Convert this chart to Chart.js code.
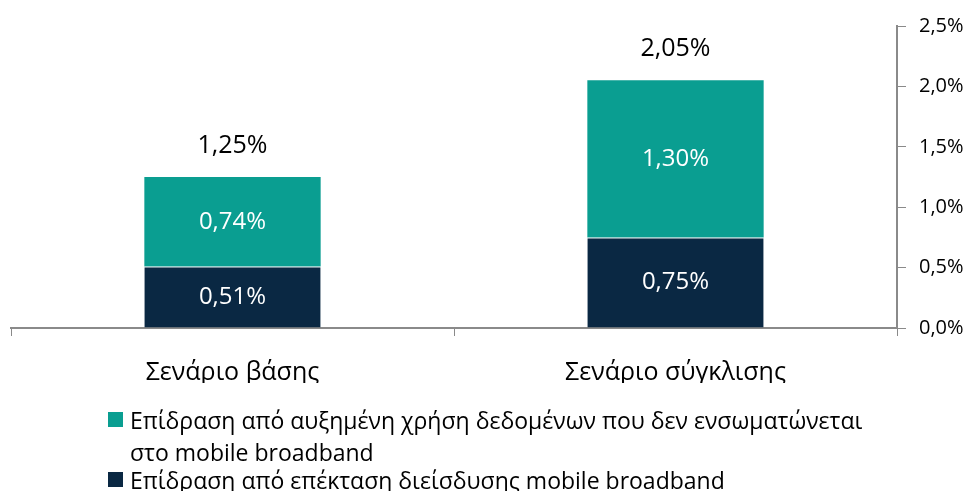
<!DOCTYPE html>
<html>
<head>
<meta charset="utf-8">
<script src="https://cdn.jsdelivr.net/npm/chart.js@4"></script>
<style>
	body { margin: 0; background: #fff; }
	#wrap { position: relative; width: 967px; height: 491px; }
	#legend { position: absolute; left: 108px; top: 404px; font-family: "Open Sans", sans-serif; font-size: 23px; color: #000; line-height: 32px; }
	.item { display: flex; align-items: flex-start; }
	.item + .item { margin-top: -4px; }
	.box { width: 15px; height: 15px; margin-top: 8px; margin-right: 7px; flex: none; }
	.txt { width: 760px; }
</style>
</head>
<body>
<div id="wrap">
	<canvas id="grafica" width="967" height="491"></canvas>
	<div id="legend"></div>
</div>
<script>
//* Datos del gráfico
const categorias = ["Σενάριο βάσης", "Σενάριο σύγκλισης"];
const serieMobile = [0.51, 0.75];
const serieDatos = [0.74, 1.30];
const nombreMobile = "Επίδραση από επέκταση διείσδυσης mobile broadband";
const nombreDatos = "Επίδραση από αυξημένη χρήση δεδομένων που δεν ενσωματώνεται στο mobile broadband";
const ticksY = [0, 0.5, 1.0, 1.5, 2.0, 2.5];

//* Colores
const teal = "#0a9e91";
const navy = "#0a2843";
const fuente = "'Open Sans', sans-serif";

//* Formato con coma decimal
const fmt = (v, d) => v.toFixed(d).replace(".", ",") + "%";

//* Plugin para las etiquetas de los segmentos y los totales
const etiquetas = {
	id: "etiquetas",
	afterDatasetsDraw(chart) {
		const ctx = chart.ctx;
		ctx.save();
		ctx.textAlign = "center";
		ctx.textBaseline = "middle";
		ctx.font = "24px " + fuente;
		ctx.fillStyle = "#ffffff";
		chart.data.datasets.forEach((ds, i) => {
			chart.getDatasetMeta(i).data.forEach((bar, j) => {
				ctx.fillText(fmt(ds.data[j], 2), bar.x, (bar.y + bar.base) / 2);
			});
		});
		//* Totales encima de cada barra
		ctx.fillStyle = "#000000";
		ctx.font = "25px " + fuente;
		const ultima = chart.getDatasetMeta(chart.data.datasets.length - 1);
		categorias.forEach((c, j) => {
			let suma = 0;
			chart.data.datasets.forEach((ds) => { suma += ds.data[j]; });
			const bar = ultima.data[j];
			ctx.fillText(fmt(suma, 2), bar.x, chart.scales.y.getPixelForValue(suma) - 31);
		});
		ctx.restore();
	},
};

const ctx = document.getElementById("grafica");
const grafica = new Chart(ctx, {
	type: "bar",
	data: {
		labels: categorias,
		datasets: [
			{ label: nombreMobile, data: serieMobile, backgroundColor: navy, borderColor: "#d8e6ea", borderWidth: { top: 1 }, borderSkipped: false },
			{ label: nombreDatos, data: serieDatos, backgroundColor: teal, borderWidth: 0 },
		],
	},
	options: {
		responsive: false,
		animation: false,
		layout: { padding: { top: 26, left: 11, right: 0, bottom: 108 } },
		plugins: { legend: { display: false }, tooltip: { enabled: false } },
		datasets: { bar: { barPercentage: 0.398, categoryPercentage: 1 } },
		scales: {
			x: {
				stacked: true,
				grid: { drawOnChartArea: false, offset: true, color: "#8a8a8a", tickLength: 8, tickWidth: 1 },
				border: { color: "#8a8a8a", width: 2 },
				ticks: { color: "#000", padding: 22, font: { size: 25, family: fuente } },
				afterFit: (s) => { s.height = 55; },
			},
			y: {
				stacked: true,
				position: "right",
				min: 0,
				max: 2.5,
				afterBuildTicks: (s) => { s.ticks = ticksY.map((v) => ({ value: v })); },
				grid: { drawOnChartArea: false, color: "#8a8a8a", tickLength: 9 },
				border: { color: "#8a8a8a", width: 2 },
				ticks: { color: "#000", padding: 13, font: { size: 20, family: fuente }, callback: (v) => fmt(v, 1) },
				afterFit: (s) => { s.width = 70; },
			},
		},
	},
	plugins: [etiquetas],
});

//* Leyenda en HTML
const leyenda = document.getElementById("legend");
[[teal, nombreDatos], [navy, nombreMobile]].forEach(([c, t]) => {
	const item = document.createElement("div");
	item.className = "item";
	item.innerHTML = '<span class="box" style="background:' + c + '"></span><span class="txt"></span>';
	item.querySelector(".txt").textContent = t;
	leyenda.appendChild(item);
});
</script>
</body>
</html>
